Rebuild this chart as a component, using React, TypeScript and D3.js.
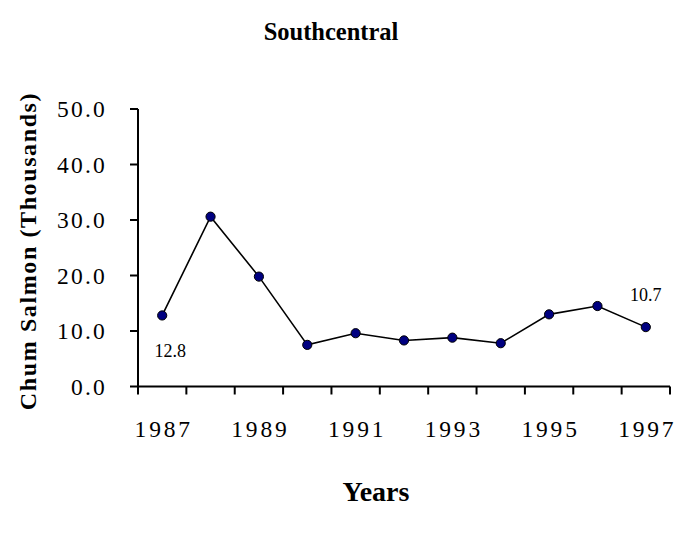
import React from "react";
import * as d3 from "d3";

const years = ["1987","1988","1989","1990","1991","1992","1993","1994","1995","1996","1997"];
const values = [12.8, 30.6, 19.8, 7.5, 9.6, 8.3, 8.8, 7.8, 13.0, 14.5, 10.7];
const yTicks = [0, 10, 20, 30, 40, 50];
const xLabelYears = ["1987","1989","1991","1993","1995","1997"];
const labeledIdx = [0, 10];

const W = 675, H = 534;
const m = { left: 138, right: 670, top: 109, bottom: 386.5 };
const font = "'Liberation Serif', 'Times New Roman', serif";

export default function App() {
  const x = d3.scaleBand().domain(years).range([m.left, m.right]);
  const y = d3.scaleLinear().domain([0, 50]).range([m.bottom, m.top]);
  const cx = (yr: string) => (x(yr) as number) + x.bandwidth() / 2;
  const line = d3.line<number>().x((_, i) => cx(years[i])).y(d => y(d));
  const boundaries = years.map(yr => x(yr) as number).concat([m.right]);

  return (
    <svg width={W} height={H} style={{ position: "absolute", left: 0, top: 0, background: "#fff" }}>
      <text x={331} y={40} textAnchor="middle" fontFamily={font} fontWeight="bold" fontSize={24.5}>Southcentral</text>
      <text x={376} y={501} textAnchor="middle" fontFamily={font} fontWeight="bold" fontSize={28}>Years</text>
      <text transform={`translate(36,${251}) rotate(-90)`} textAnchor="middle" fontFamily={font} fontWeight="bold" fontSize={24} letterSpacing={1.6}>Chum Salmon (Thousands)</text>

      {yTicks.map(t => (
        <g key={t}>
          <line x1={m.left - 8} x2={m.left} y1={y(t)} y2={y(t)} stroke="#000" strokeWidth={2} />
          <text x={107} y={y(t) + 8} textAnchor="end" fontFamily={font} fontSize={23.5} letterSpacing={2.2}>{t.toFixed(1)}</text>
        </g>
      ))}
      {boundaries.map((b, i) => (
        <line key={i} x1={b} x2={b} y1={m.bottom} y2={m.bottom + 8} stroke="#000" strokeWidth={2} />
      ))}
      {xLabelYears.map(yr => (
        <text key={yr} x={cx(yr) + 1.5} y={437} textAnchor="middle" fontFamily={font} fontSize={23.5} letterSpacing={2.8}>{yr}</text>
      ))}
      <line x1={m.left} x2={m.left} y1={m.top} y2={m.bottom} stroke="#000" strokeWidth={2} />
      <line x1={m.left} x2={m.right} y1={m.bottom} y2={m.bottom} stroke="#000" strokeWidth={2} />

      <path d={line(values) || ""} fill="none" stroke="#000" strokeWidth={1.6} />
      {values.map((v, i) => (
        <circle key={i} cx={cx(years[i])} cy={y(v)} r={4.6} fill="#000080" stroke="#000" strokeWidth={1} />
      ))}
      <text x={cx(years[labeledIdx[0]]) + 8} y={y(values[0]) + 42} textAnchor="middle" fontFamily={font} fontSize={18}>{values[0].toFixed(1)}</text>
      <text x={cx(years[labeledIdx[1]])} y={y(values[10]) - 26} textAnchor="middle" fontFamily={font} fontSize={18}>{values[10].toFixed(1)}</text>
    </svg>
  );
}
